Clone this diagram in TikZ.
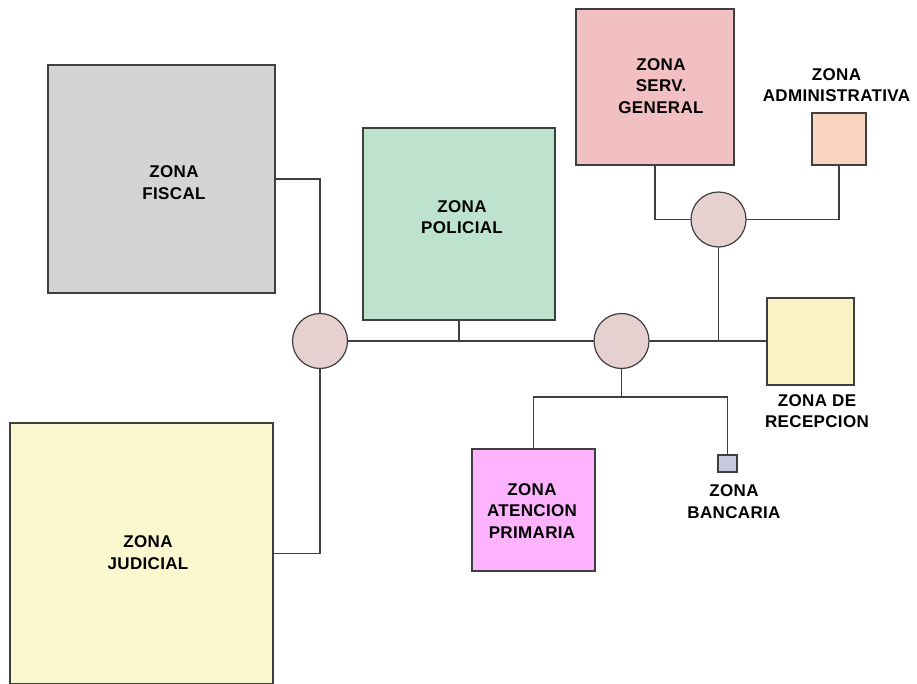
\documentclass[tikz,border=0pt]{standalone}
\usepackage{fontspec}
\setmainfont{Liberation Sans}[LetterSpace=2]
\definecolor{linec}{HTML}{3F3F3F}
\definecolor{cfiscal}{HTML}{D4D4D4}
\definecolor{cpolicial}{HTML}{BDE3CE}
\definecolor{cservg}{HTML}{F2C0C3}
\definecolor{cadmin}{HTML}{F9D5C0}
\definecolor{crecep}{HTML}{FBF3C6}
\definecolor{cjudicial}{HTML}{FBF8CF}
\definecolor{caten}{HTML}{FDB3FD}
\definecolor{cbanc}{HTML}{C8C8E0}
\definecolor{chub}{HTML}{E6D0D0}
\begin{document}
\begin{tikzpicture}[x=1pt,y=-1pt,
  zone/.style={draw=linec, line width=1.2pt, inner sep=0pt, outer sep=0pt, anchor=north west},
  hub/.style={circle, draw=linec, line width=1.2pt, fill=chub, minimum size=55pt, inner sep=0pt, outer sep=0pt},
  conn/.style={draw=linec, line width=1.2pt},
  lbl/.style={align=center, inner sep=0pt, font=\fontsize{17}{21.5}\selectfont\bfseries, text=black}]
\useasboundingbox (0,0) rectangle (917,684);
\clip (0,0) rectangle (917,684);
% zones
\node[zone, fill=cfiscal, minimum width=227pt, minimum height=228pt] (fiscal) at (48,65) {};
\node[zone, fill=cjudicial, minimum width=263pt, minimum height=261pt] (judicial) at (10,423) {};
\node[zone, fill=cpolicial, minimum width=192pt, minimum height=192pt] (policial) at (363,128) {};
\node[zone, fill=cservg, minimum width=158pt, minimum height=156pt] (servg) at (576,9) {};
\node[zone, fill=cadmin, minimum width=54pt, minimum height=52pt] (admin) at (812,113) {};
\node[zone, fill=crecep, minimum width=87pt, minimum height=87pt] (recep) at (767,298) {};
\node[zone, fill=caten, minimum width=123pt, minimum height=122pt] (aten) at (472,449) {};
\node[zone, fill=cbanc, minimum width=19pt, minimum height=17pt] (banc) at (718,455) {};
% hubs
\node[hub] (h1) at (320,341) {};
\node[hub] (h2) at (621.5,341) {};
\node[hub] (h3) at (718.5,219.5) {};
% connectors
\draw[conn] (fiscal.east) -| (h1.north);
\draw[conn] (judicial.east) -| (h1.south);
\draw[conn] (h1.east) -- (h2.west);
\draw[conn] (policial.south) -- (policial.south |- h1.east);
\draw[conn] (h2.east) -- (h2.east -| recep.west);
\draw[conn] (h3.south) -- (h3.south |- h2.east);
\draw[conn] (servg.south) |- (h3.west);
\draw[conn] (admin.south) |- (h3.east);
\coordinate (j) at (621.5,397);
\draw[conn] (h2.south) -- (j);
\draw[conn] (j) -| (aten.north);
\draw[conn] (j) -| (banc.north);
% labels
\node[lbl] (tfiscal) at (174,182.5) {ZONA\\FISCAL};
\node[lbl] (tjudicial) at (148,552.5) {ZONA\\JUDICIAL};
\node[lbl] (tpolicial) at (462,217) {ZONA\\POLICIAL};
\node[lbl] (tservg) at (661,86) {ZONA\\SERV.\\GENERAL};
\node[lbl] (tadmin) at (836.5,85) {ZONA\\ADMINISTRATIVA};
\node[lbl] (trecep) at (817,411) {ZONA DE\\RECEPCION};
\node[lbl] (taten) at (532,511) {ZONA\\ATENCION\\PRIMARIA};
\node[lbl] (tbanc) at (734,501.5) {ZONA\\BANCARIA};
\end{tikzpicture}
\end{document}
